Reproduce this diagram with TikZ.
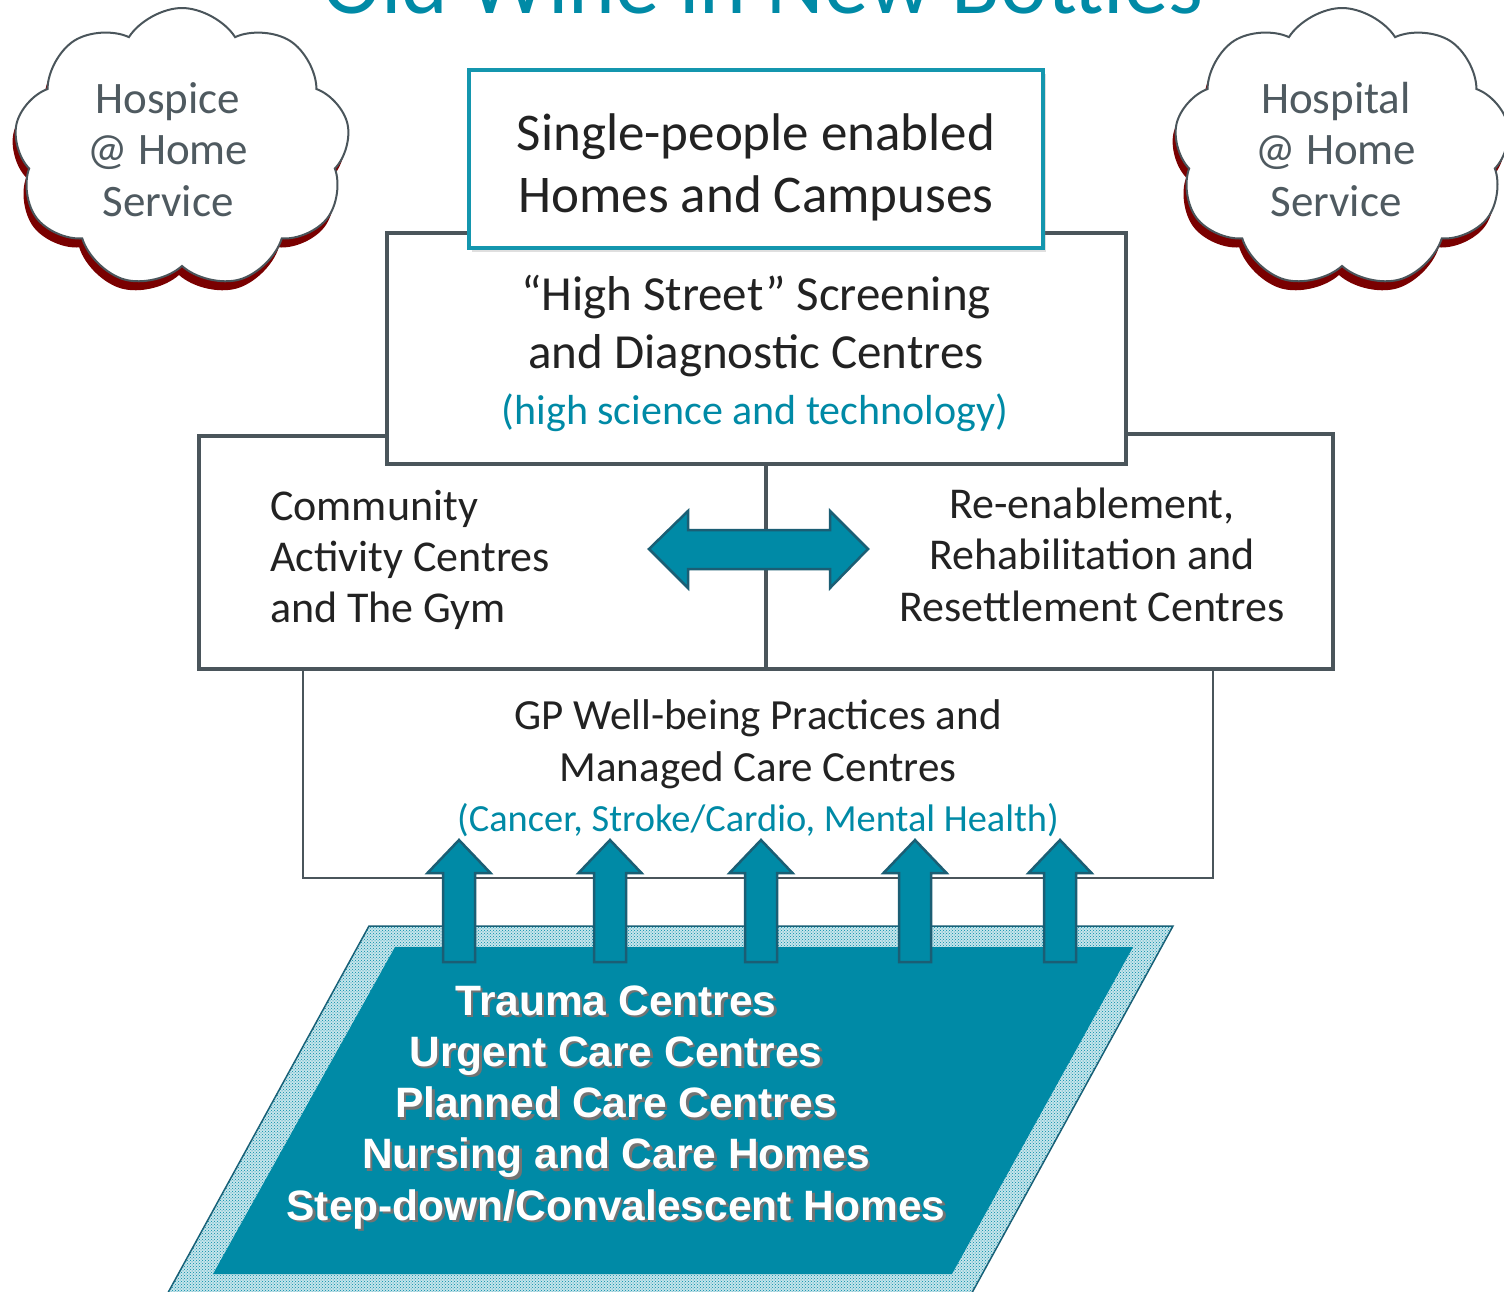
\documentclass[tikz,border=0pt]{standalone}
\usepackage{fontspec}
\setmainfont{Carlito}
\newfontfamily\arialfont{Liberation Sans}
\usetikzlibrary{positioning,shapes.symbols,shadows,patterns}
\definecolor{nhsteal}{HTML}{008AA6}
\definecolor{topteal}{HTML}{1496AE}
\definecolor{darkteal}{HTML}{1B5E74}
\definecolor{boxgray}{HTML}{4A555B}
\definecolor{cloudtext}{HTML}{4F5A60}
\definecolor{cloudred}{HTML}{7A0000}
\definecolor{boxtext}{HTML}{222222}

\begin{document}
\begin{tikzpicture}[x=1pt,y=-1pt,
  box/.style={draw=boxgray, line width=4pt, fill=white, inner sep=0pt},
  txt/.style={anchor=base, align=center, text=boxtext, inner sep=0pt},
  cloudy/.style={cloud, cloud puffs=9, cloud puff arc=115, cloud ignores aspect, draw=boxgray, line width=2pt, fill=white,
    minimum width=336pt, minimum height=280pt,
    drop shadow={fill=cloudred, opacity=1, shadow xshift=-3pt, shadow yshift=-9pt}},
  blockarrow/.style={fill=nhsteal, draw=darkteal, line width=2.5pt, line join=miter},
  uparr/.pic={\draw[blockarrow] (-16,0) -- (-16,-89) -- (-31.5,-89) -- (0,-122) -- (31.5,-89) -- (16,-89) -- (16,0) -- cycle;}]
  \useasboundingbox (0,0) rectangle (1504,1292);

  \node[anchor=base, inner sep=0pt, text=nhsteal, font=\fontsize{89}{100}\selectfont] (title) at (763,14) {Old Wine in New Bottles};

  \node[cloudy] (hospice) at (182,148) {};
  \node[cloudy] (hospital) at (1342,148) {};
  \node[txt, text=cloudtext, font=\fontsize{45}{51.5}\selectfont] (hospicetxt) at (168,216) {Hospice\\@ Home\\Service};
  \node[txt, text=cloudtext, font=\fontsize{45}{51.5}\selectfont] (hospitaltxt) at (1336,216) {Hospital\\@ Home\\Service};

  \node[box, line width=2.5pt, minimum width=910pt, minimum height=209pt] (gp) at (758,773.5) {};
  \node[box, minimum width=567pt, minimum height=233pt] (comm) at (482.5,552.5) {};
  \node[box, minimum width=567pt, minimum height=235pt] (reen) at (1049.5,551.5) {};
  \node[box, minimum width=739pt, minimum height=231pt] (scr) at (756.5,348.5) {};
  \node[box, draw=topteal, minimum width=574pt, minimum height=178pt,
    drop shadow={opacity=0.25, shadow xshift=3pt, shadow yshift=-4pt}] (homes) at (756,159) {};

  \node[txt, font=\fontsize{53}{62}\selectfont] (homestxt) at (756,212) {Single-people enabled\\Homes and Campuses};
  \node[txt, font=\fontsize{49}{57.5}\selectfont] (scrtxt) at (756,368) {“High Street” Screening\\and Diagnostic Centres};
  \node[txt, text=nhsteal, font=\fontsize{42}{50}\selectfont] (scrnote) at (755,424) {(high science and technology)};
  \node[txt, align=left, anchor=base west, font=\fontsize{44}{51}\selectfont] (commtxt) at (270,622) {Community\\Activity Centres\\and The Gym};
  \node[txt, font=\fontsize{44}{51.5}\selectfont] (reentxt) at (1092,621) {Re-enablement,\\Rehabilitation and\\Resettlement Centres};
  \node[txt, font=\fontsize{43}{52}\selectfont] (gptxt) at (758,781) {GP Well-being Practices and\\Managed Care Centres};
  \node[txt, text=nhsteal, font=\fontsize{38.4}{46}\selectfont] (gpnote) at (758,831) {(Cancer, Stroke/Cardio, Mental Health)};

  \draw[blockarrow] (649,549) -- (688,511) -- (688,530) -- (830,530) -- (830,511) -- (868,549)
    -- (830,588) -- (830,569) -- (688,569) -- (688,588) -- cycle;

  \path[draw=darkteal, line width=1.5pt, fill=nhsteal!22, postaction={pattern=crosshatch dots, pattern color=nhsteal}]
    (369,926) -- (1173,926) -- (968,1300) -- (164,1300) -- cycle;
  \fill[nhsteal] (395,947) -- (1133,947) -- (952,1274) -- (213,1274) -- cycle;

  \node[txt, text=black!55, font=\arialfont\bfseries\fontsize{42.5}{51.2}\selectfont] (careshadow) at (618.5,1222.5) {Trauma Centres\\Urgent Care Centres\\Planned Care Centres\\Nursing and Care Homes\\Step-down/Convalescent Homes};
  \node[txt, text=white, font=\arialfont\bfseries\fontsize{42.5}{51.2}\selectfont] (caretxt) at (616,1220) {Trauma Centres\\Urgent Care Centres\\Planned Care Centres\\Nursing and Care Homes\\Step-down/Convalescent Homes};

  \foreach \x in {459,610,761,915,1060}
    \pic at (\x,962) {uparr};
\end{tikzpicture}
\end{document}
